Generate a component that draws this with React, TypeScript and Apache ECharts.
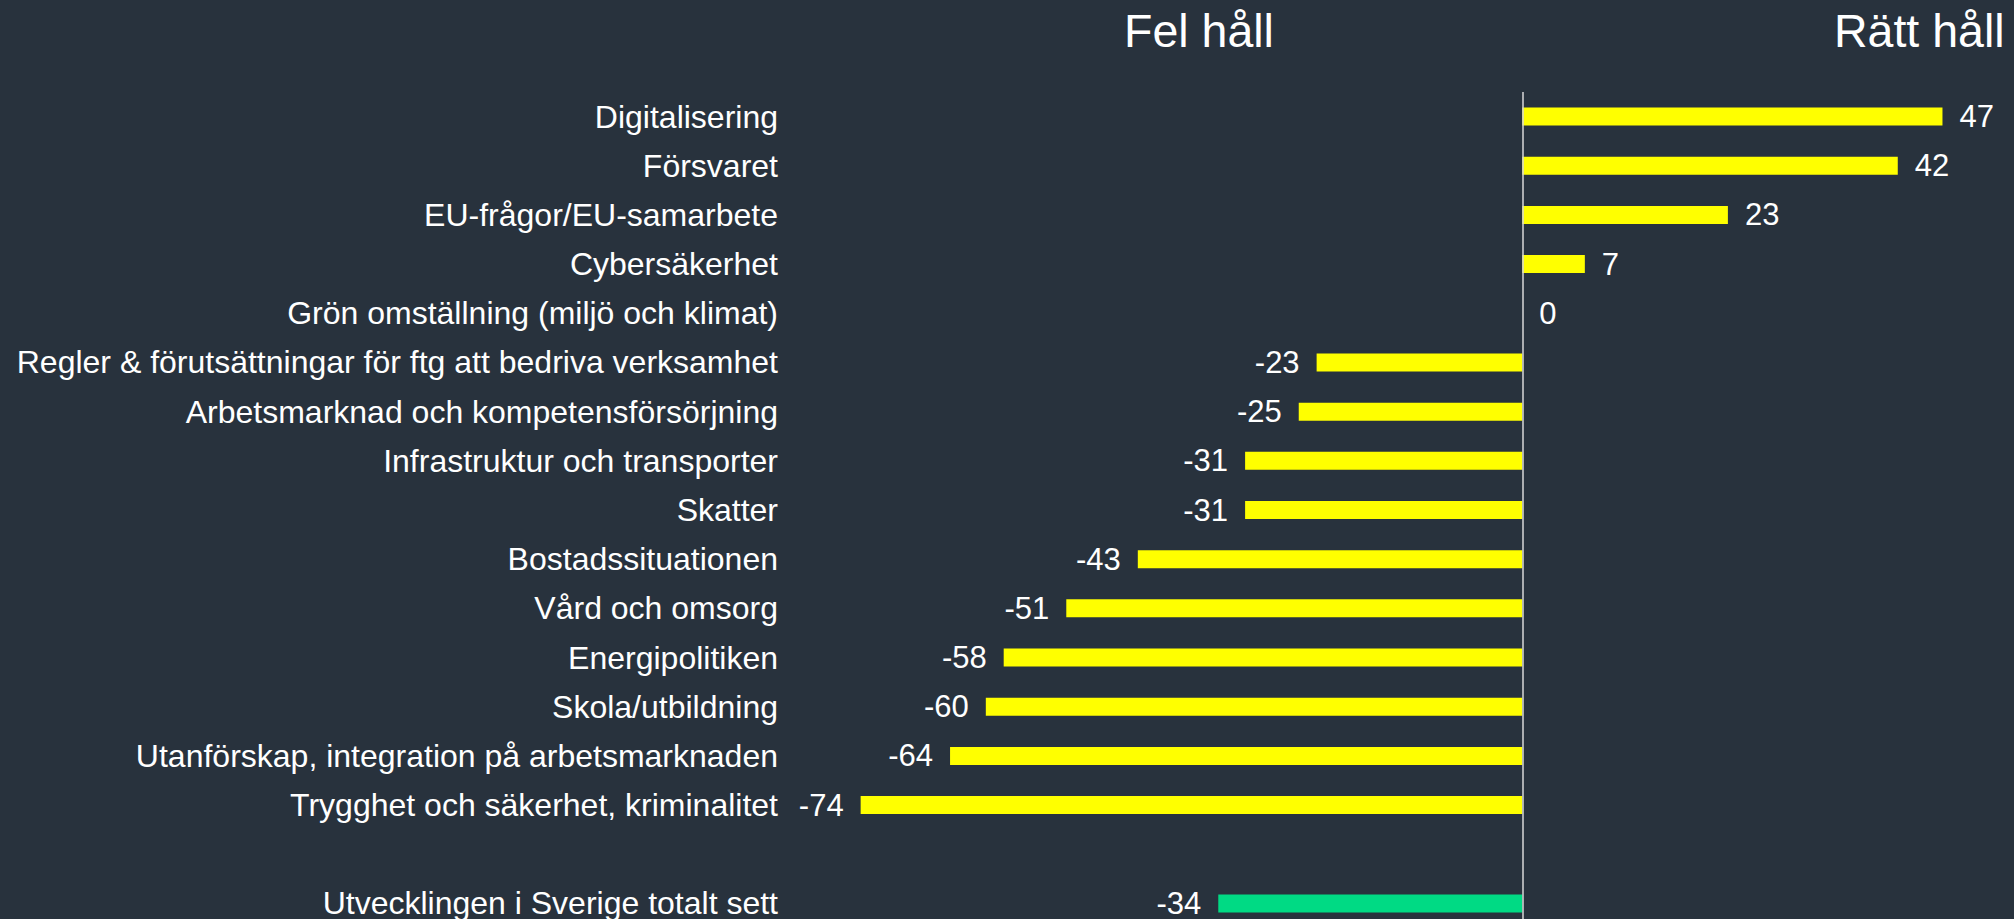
import React, { useEffect, useRef } from "react";
import * as echarts from "echarts";

const categories: string[] = [
  "Digitalisering",
  "Försvaret",
  "EU-frågor/EU-samarbete",
  "Cybersäkerhet",
  "Grön omställning (miljö och klimat)",
  "Regler & förutsättningar för ftg att bedriva verksamhet",
  "Arbetsmarknad och kompetensförsörjning",
  "Infrastruktur och transporter",
  "Skatter",
  "Bostadssituationen",
  "Vård och omsorg",
  "Energipolitiken",
  "Skola/utbildning",
  "Utanförskap, integration på arbetsmarknaden",
  "Trygghet och säkerhet, kriminalitet",
  "",
  "Utvecklingen i Sverige totalt sett",
];

const values: (number | null)[] = [
  47, 42, 23, 7, 0, -23, -25, -31, -31, -43, -51, -58, -60, -64, -74, null, -34,
];

const totalCategory = "Utvecklingen i Sverige totalt sett";

const headings = { left: "Fel håll", right: "Rätt håll" };

const BG = "#28323d";
const YELLOW = "#ffff00";
const GREEN = "#00da84";
const FONT = "'Liberation Sans', Arial, Helvetica, sans-serif";

export default function App() {
  const ref = useRef<HTMLDivElement>(null);

  useEffect(() => {
    if (!ref.current) return;
    const chart = echarts.init(ref.current, undefined, { renderer: "svg" });

    const data = values.map((v, i) => {
      if (v === null) return { value: null };
      const isTotal = categories[i] === totalCategory;
      return {
        value: v,
        itemStyle: { color: isTotal ? GREEN : YELLOW },
        label: { position: v < 0 ? "left" : "right" },
      };
    });

    chart.setOption({
      animation: false,
      backgroundColor: BG,
      grid: { left: 807, width: 1207, top: 92, height: 836, containLabel: false },
      xAxis: {
        type: "value",
        min: -80,
        max: 55,
        show: false,
        splitLine: { show: false },
      },
      yAxis: {
        type: "category",
        inverse: true,
        data: categories,
        axisLine: { show: false, onZero: false },
        axisTick: { show: false },
        splitLine: { show: false },
        axisLabel: {
          color: "#ffffff",
          fontSize: 32,
          fontFamily: FONT,
          margin: 29,
          interval: 0,
        },
      },
      graphic: [
        {
          type: "text",
          x: 1124,
          y: 31,
          style: {
            text: headings.left,
            fill: "#ffffff",
            fontSize: 46.5,
            fontFamily: FONT,
            textAlign: "left",
            textVerticalAlign: "middle",
          },
        },
        {
          type: "text",
          x: 1834,
          y: 31,
          style: {
            text: headings.right,
            fill: "#ffffff",
            fontSize: 46.5,
            fontFamily: FONT,
            textAlign: "left",
            textVerticalAlign: "middle",
          },
        },
      ],
      series: [
        {
          type: "bar",
          data,
          barWidth: 18,
          label: {
            show: true,
            color: "#ffffff",
            fontSize: 31,
            fontFamily: FONT,
            distance: 17,
          },
          markLine: {
            silent: true,
            symbol: "none",
            label: { show: false },
            lineStyle: { color: "#d9d9d9", width: 1.5, type: "solid" },
            data: [{ xAxis: 0 }],
          },
        },
      ],
    });

    return () => chart.dispose();
  }, []);

  return (
    <div
      ref={ref}
      style={{ position: "fixed", left: 0, top: 0, width: 2014, height: 940 }}
    />
  );
}
